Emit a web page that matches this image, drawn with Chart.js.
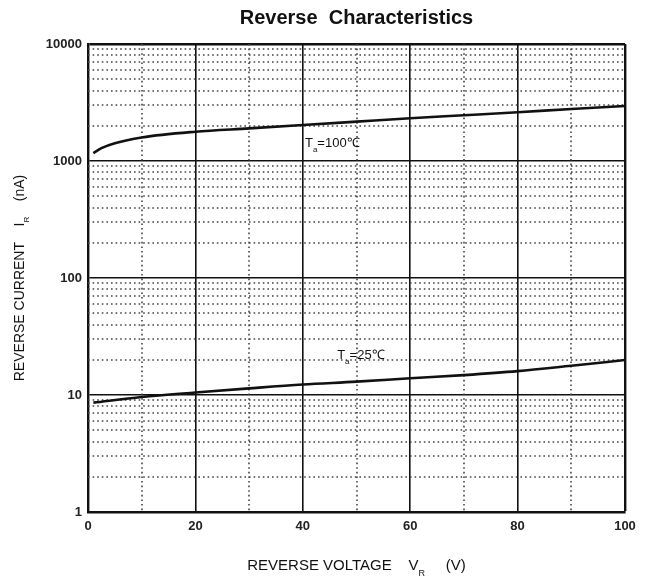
<!DOCTYPE html>
<html>
<head>
<meta charset="utf-8">
<script src="https://cdn.jsdelivr.net/npm/chart.js@4"></script>
<style>
  html, body { margin: 0; padding: 0; background: #fff; }
  #wrap { width: 646px; height: 581px; position: relative; }
</style>
</head>
<body>
<div id="wrap"><canvas id="chart"></canvas></div>
<script>
// values (V in volts, I in nA)
const voltage100 = [1, 2.5, 5, 10, 20, 30, 40, 50, 60, 70, 80, 90, 100];
const current100 = [1170, 1290, 1420, 1590, 1780, 1900, 2030, 2170, 2320, 2460, 2610, 2780, 2950];
const voltage25 = [1, 10, 20, 30, 40, 50, 60, 70, 80, 90, 100];
const current25 = [8.6, 9.6, 10.5, 11.4, 12.3, 13.0, 13.9, 14.8, 16.0, 17.8, 19.9];

const xTicks = [0, 20, 40, 60, 80, 100];
const xMinor = [10, 30, 50, 70, 90];
const yTicks = [1, 10, 100, 1000, 10000];
const yMinorFactors = [2, 3, 4, 5, 6, 7, 8, 9];

const FONT = 'Liberation Sans, Arial, sans-serif';
const INK = '#111';

// draw text pieces, some of them as subscripts
function drawRich(ctx, parts, x, y, size, align) {
  const subSize = Math.round(size * 0.6);
  let total = 0;
  parts.forEach(p => {
    ctx.font = (p.sub ? subSize : size) + 'px ' + FONT;
    p.w = ctx.measureText(p.t).width;
    total += p.w;
  });
  let cx = align === 'center' ? x - total / 2 : x;
  ctx.textAlign = 'left';
  ctx.textBaseline = 'middle';
  parts.forEach(p => {
    ctx.font = (p.sub ? subSize : size) + 'px ' + FONT;
    ctx.fillText(p.t, cx, p.sub ? y + size * 0.5 : y);
    cx += p.w;
  });
}

const minorGrid = {
  id: 'minorGrid',
  beforeDatasetsDraw(chart) {
    const { ctx, chartArea: a, scales: { x, y } } = chart;
    ctx.save();
    ctx.strokeStyle = '#444';
    ctx.lineWidth = 1.6;
    ctx.setLineDash([1.6, 3]);
    ctx.beginPath();
    xMinor.forEach(v => {
      const px = Math.round(x.getPixelForValue(v));
      ctx.moveTo(px, a.top);
      ctx.lineTo(px, a.bottom);
    });
    yTicks.slice(0, -1).forEach(d => yMinorFactors.forEach(m => {
      const py = Math.round(y.getPixelForValue(d * m));
      ctx.moveTo(a.left, py);
      ctx.lineTo(a.right, py);
    }));
    ctx.stroke();
    ctx.restore();
  }
};

const labels = {
  id: 'labels',
  afterDraw(chart) {
    const { ctx, chartArea: a, scales: { x, y } } = chart;
    const mid = (a.left + a.right) / 2;
    ctx.save();
    ctx.fillStyle = INK;
    ctx.textAlign = 'center';
    ctx.textBaseline = 'middle';
    ctx.font = 'bold 20px ' + FONT;
    ctx.fillText('Reverse  Characteristics', mid, 18);

    drawRich(ctx, [{ t: 'REVERSE VOLTAGE    V' }, { t: 'R', sub: true }, { t: '     (V)' }], mid, 566, 15, 'center');

    ctx.save();
    ctx.translate(20, (a.top + a.bottom) / 2);
    ctx.rotate(-Math.PI / 2);
    drawRich(ctx, [{ t: 'REVERSE CURRENT    I' }, { t: 'R', sub: true }, { t: '    (nA)' }], 0, 0, 14, 'center');
    ctx.restore();

    drawRich(ctx, [{ t: 'T' }, { t: 'a', sub: true }, { t: '=100℃' }], x.getPixelForValue(40.4), y.getPixelForValue(1425), 13, 'left');
    drawRich(ctx, [{ t: 'T' }, { t: 'a', sub: true }, { t: '=25℃' }], x.getPixelForValue(46.4), y.getPixelForValue(22), 13, 'left');
    ctx.restore();
  }
};

const tickFont = { family: FONT, size: 13, weight: 'bold' };

new Chart(document.getElementById('chart'), {
  type: 'line',
  data: {
    datasets: [
      {
        label: 'Ta=100℃',
        data: voltage100.map((v, i) => ({ x: v, y: current100[i] })),
        borderColor: INK, borderWidth: 2.6, pointRadius: 0,
        cubicInterpolationMode: 'monotone', fill: false
      },
      {
        label: 'Ta=25℃',
        data: voltage25.map((v, i) => ({ x: v, y: current25[i] })),
        borderColor: INK, borderWidth: 2.6, pointRadius: 0,
        cubicInterpolationMode: 'monotone', fill: false
      }
    ]
  },
  options: {
    responsive: true,
    maintainAspectRatio: false,
    animation: false,
    layout: { padding: { top: 44, right: 21, bottom: 0, left: 0 } },
    plugins: { legend: { display: false }, tooltip: { enabled: false }, title: { display: false } },
    scales: {
      x: {
        type: 'linear', min: 0, max: 100,
        afterBuildTicks: s => { s.ticks = xTicks.map(v => ({ value: v })); },
        afterFit: s => { s.height = 69; },
        grid: { color: INK, lineWidth: c => (c.tick && c.tick.value === 100 ? 2.4 : 1.6), drawTicks: false },
        border: { color: INK, width: 2.4 },
        ticks: { padding: 7, color: '#222', autoSkip: false, maxRotation: 0, font: tickFont }
      },
      y: {
        type: 'logarithmic', min: 1, max: 10000,
        afterBuildTicks: s => { s.ticks = yTicks.map(v => ({ value: v })); },
        afterFit: s => { s.width = 88; },
        grid: { color: INK, lineWidth: c => (c.tick && c.tick.value === 10000 ? 2.4 : 1.6), drawTicks: false },
        border: { color: INK, width: 2.4 },
        ticks: { padding: 6, color: '#222', autoSkip: false, font: tickFont, callback: v => String(v) }
      }
    }
  },
  plugins: [minorGrid, labels]
});
</script>
</body>
</html>
